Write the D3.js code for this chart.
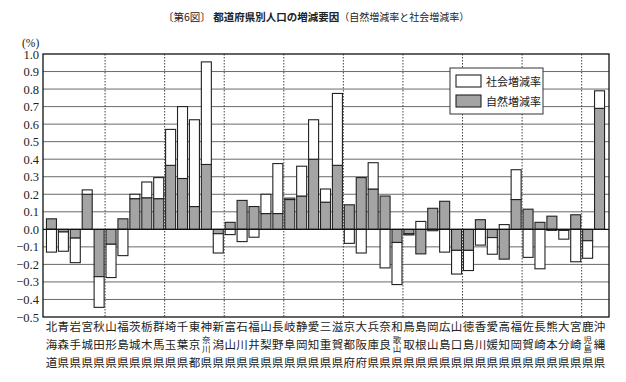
<!DOCTYPE html>
<meta charset="utf-8">
<style>
	body { margin:0; background:#fff; }
	svg { display:block; }
	.jp { font-family:"Noto Sans CJK JP", sans-serif; }
	.num { font-family:"Liberation Serif", "DejaVu Serif", serif; }
</style>
<script src="https://d3js.org/d3.v7.min.js"></script>
<body>
<div id="chart"></div>
<script>
	// prefectures, in the order of the figure
	var prefectures = ["北海道","青森県","岩手県","宮城県","秋田県","山形県","福島県","茨城県","栃木県","群馬県",
		"埼玉県","千葉県","東京都","神奈川県","新潟県","富山県","石川県","福井県","山梨県","長野県",
		"岐阜県","静岡県","愛知県","三重県","滋賀県","京都府","大阪府","兵庫県","奈良県","和歌山県",
		"鳥取県","島根県","岡山県","広島県","山口県","徳島県","香川県","愛媛県","高知県","福岡県",
		"佐賀県","長崎県","熊本県","大分県","宮崎県","鹿児島県","沖縄県"];

	// 自然増減率 (%)
	var natural = [0.06,-0.015,-0.05,0.20,-0.27,-0.085,0.06,0.175,0.18,0.175,
		0.365,0.29,0.13,0.37,-0.025,0.04,0.165,0.13,0.09,0.09,
		0.17,0.19,0.40,0.155,0.365,0.14,0.295,0.23,0.19,-0.075,
		-0.025,-0.14,0.12,0.16,-0.12,-0.12,0.055,-0.047,-0.17,0.17,
		0.115,0.04,0.075,-0.006,0.083,-0.065,0.69];

	// 社会増減率 (%)
	var social = [-0.13,-0.11,-0.14,0.025,-0.175,-0.19,-0.15,0.025,0.09,0.12,
		0.205,0.41,0.495,0.585,-0.11,-0.03,-0.07,-0.045,0.11,0.285,
		0.008,0.17,0.225,0.075,0.41,-0.08,-0.135,0.15,-0.22,-0.24,
		-0.007,0.045,-0.008,-0.13,-0.135,-0.115,-0.09,-0.095,0.027,0.17,
		-0.16,-0.225,-0.006,-0.05,-0.185,-0.10,0.10];

	var yTicks = [1.0,0.9,0.8,0.7,0.6,0.5,0.4,0.3,0.2,0.1,0.0,-0.1,-0.2,-0.3,-0.4,-0.5];
	var legendLabels = ["社会増減率","自然増減率"];

	var width = 626, height = 382;
	var plotL = 43, plotR = 609, plotT = 54, plotB = 317;

	var svg = d3.select("#chart").append("svg")
		.attr("width", width)
		.attr("height", height);

	var rows = prefectures.map(function(p, i) {
		return {name:p, natural:natural[i], social:social[i]};
	});

	var x = d3.scaleBand()
		.domain(prefectures)
		.range([45.5, 605.5])
		.paddingInner(0.16)
		.paddingOuter(0.08);

	var y = d3.scaleLinear()
		.domain([-0.5, 1.0])
		.range([plotB, plotT]);

	// title
	var title = svg.append("text")
		.attr("class", "jp")
		.attr("x", 163)
		.attr("y", 21)
		.attr("font-size", 10.5)
		.attr("fill", "#222");
	title.append("tspan").text("〔第6図〕  ");
	title.append("tspan").attr("font-weight", "bold").text("都道府県別人口の増減要因");
	title.append("tspan").attr("font-size", 10).text("（自然増減率と社会増減率）");

	// horizontal grid
	svg.append("g")
		.selectAll("line")
		.data(yTicks.filter(function(d) { return d < 1 && d > -0.5 && d !== 0; }))
		.enter().append("line")
		.attr("x1", plotL).attr("x2", plotR)
		.attr("y1", function(d) { return y(d); })
		.attr("y2", function(d) { return y(d); })
		.attr("stroke", "#6a6a6a")
		.attr("stroke-width", 1);

	// bars
	var stack = d3.stack()
		.keys(["natural","social"])
		.offset(d3.stackOffsetDiverging);
	var series = stack(rows);
	var fills = {natural:"#a4a4a4", social:"#ffffff"};

	svg.append("g")
		.selectAll("g")
		.data(series)
		.enter().append("g")
		.attr("fill", function(s) { return fills[s.key]; })
		.selectAll("rect")
		.data(function(s) { return s; })
		.enter().append("rect")
		.attr("x", function(d) { return x(d.data.name); })
		.attr("width", x.bandwidth())
		.attr("y", function(d) { return y(Math.max(d[0], d[1])); })
		.attr("height", function(d) { return Math.abs(y(d[0]) - y(d[1])); })
		.attr("stroke", "#222")
		.attr("stroke-width", 1.1);

	// dotted separators every five prefectures
	var sep = d3.range(5, prefectures.length, 5);
	svg.append("g")
		.selectAll("line")
		.data(sep)
		.enter().append("line")
		.attr("x1", function(i) { return x.range()[0] + i * x.step(); })
		.attr("x2", function(i) { return x.range()[0] + i * x.step(); })
		.attr("y1", plotT).attr("y2", plotB)
		.attr("stroke", "#444")
		.attr("stroke-width", 1)
		.attr("stroke-dasharray", "1.5,1.5");

	// zero line and frame
	svg.append("line")
		.attr("x1", plotL).attr("x2", plotR)
		.attr("y1", y(0)).attr("y2", y(0))
		.attr("stroke", "#111").attr("stroke-width", 1.2);
	svg.append("rect")
		.attr("x", plotL).attr("y", plotT)
		.attr("width", plotR - plotL).attr("height", plotB - plotT)
		.attr("fill", "none")
		.attr("stroke", "#111").attr("stroke-width", 1.3);

	// y axis labels
	svg.append("g")
		.selectAll("text")
		.data(yTicks)
		.enter().append("text")
		.attr("class", "num")
		.attr("x", 39)
		.attr("y", function(d) { return y(d) + 4.5; })
		.attr("text-anchor", "end")
		.attr("font-size", 12.5)
		.attr("fill", "#222")
		.text(function(d) { return (d < 0 ? "−" : "") + Math.abs(d).toFixed(1); });
	svg.append("text")
		.attr("class", "num")
		.attr("x", 22).attr("y", 47)
		.attr("font-size", 11.5)
		.attr("fill", "#222")
		.text("(%)");

	// category labels, written vertically
	var rowY = [331, 349, 367];
	var labels = svg.append("g").attr("class", "jp").attr("fill", "#222");
	prefectures.forEach(function(p) {
		var cx = x(p) + x.bandwidth() / 2;
		var ch = p.split("");
		if (ch.length === 3) {
			ch.forEach(function(c, k) {
				labels.append("text")
					.attr("x", cx).attr("y", rowY[k])
					.attr("text-anchor", "middle")
					.attr("font-size", 11.5)
					.text(c);
			});
		} else {
			labels.append("text").attr("x", cx).attr("y", rowY[0])
				.attr("text-anchor", "middle").attr("font-size", 11.5).text(ch[0]);
			// two middle characters squeezed into one cell, set vertically
			labels.append("text")
				.attr("x", cx).attr("y", 336)
				.style("writing-mode", "vertical-rl")
				.attr("font-size", 8.5)
				.text(ch[1] + ch[2]);
			labels.append("text").attr("x", cx).attr("y", rowY[2])
				.attr("text-anchor", "middle").attr("font-size", 11.5).text(ch[3]);
		}
	});

	// legend
	var legend = svg.append("g");
	legend.append("rect")
		.attr("x", 450).attr("y", 68)
		.attr("width", 93).attr("height", 46)
		.attr("fill", "#fff")
		.attr("stroke", "#333").attr("stroke-width", 1);
	var legendFills = ["#ffffff", "#a4a4a4"];
	legendLabels.forEach(function(l, i) {
		legend.append("rect")
			.attr("x", 456).attr("y", 75 + i * 20)
			.attr("width", 25).attr("height", 12)
			.attr("fill", legendFills[i])
			.attr("stroke", "#222").attr("stroke-width", 1.1);
		legend.append("text")
			.attr("class", "jp")
			.attr("x", 486).attr("y", 85.5 + i * 20)
			.attr("font-size", 11)
			.attr("fill", "#222")
			.text(l);
	});
</script>
</body>
